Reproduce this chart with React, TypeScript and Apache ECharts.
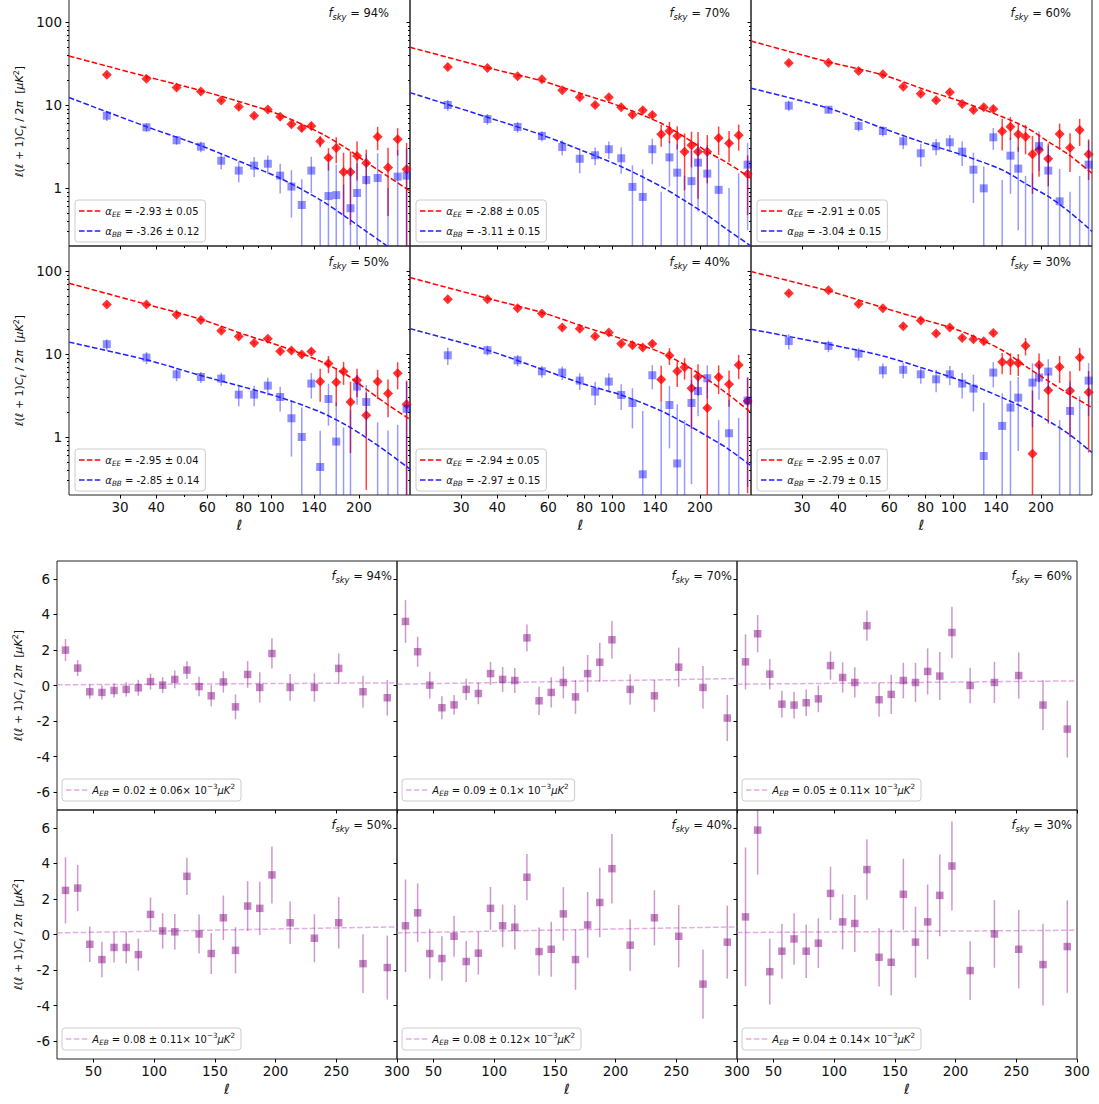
import React, { useEffect, useRef } from "react";
import * as echarts from "echarts";

// ---------- data ----------
const ELL = [27, 37, 47, 57, 67, 77, 87, 97, 107, 117, 127, 137, 147, 157, 167, 177, 187, 197, 212, 232, 252, 272, 292];
const FIT_ELL = [20, 37, 57, 80, 107, 147, 180, 212, 250, 300];
const EB_FIT_ELL = [20, 300];

const X_LOG_TICKS = [30, 40, 60, 80, 100, 140, 200];
const X_LOG_MINOR = [50, 70, 90];
const Y_LOG_TICKS = [1, 10, 100];
const Y_LOG_MINOR = [0.3, 0.4, 0.5, 0.6, 0.7, 0.8, 0.9, 2, 3, 4, 5, 6, 7, 8, 9, 20, 30, 40, 50, 60, 70, 80, 90];
const X_LIN_TICKS = [50, 100, 150, 200, 250, 300];
const Y_LIN_TICKS = [-6, -4, -2, 0, 2, 4, 6];

const FSKY = ["94%", "70%", "60%", "50%", "40%", "30%"];
const ALPHA_EE = ["-2.93 ± 0.05", "-2.88 ± 0.05", "-2.91 ± 0.05", "-2.95 ± 0.04", "-2.94 ± 0.05", "-2.95 ± 0.07"];
const ALPHA_BB = ["-3.26 ± 0.12", "-3.11 ± 0.15", "-3.04 ± 0.15", "-2.85 ± 0.14", "-2.97 ± 0.15", "-2.79 ± 0.15"];
const A_EB = ["0.02 ± 0.06", "0.09 ± 0.1", "0.05 ± 0.11", "0.08 ± 0.11", "0.08 ± 0.12", "0.04 ± 0.14"];

// EE / BB (log panels)
const EE_94 = [23.2, 20.7, 16.2, 14.5, 11.3, 9.5, 7.4, 8.8, 7.2, 5.85, 5.28, 5.58, 3.65, 2.32, 3.03, 1.56, 1.56, 2.43, 2.0, 4.15, 1.76, 3.86, 1.68];
const EE_94_ERR = [1.0, 0.9, 0.7, 0.6, 0.5, 0.45, 0.4, 0.45, 0.45, 0.45, 0.5, 0.6, 0.55, 0.7, 1.05, 1.1, 1.2, 1.2, 0.9, 1.3, 1.3, 1.4, 1.8];
const BB_94 = [7.43, 5.38, 3.76, 3.15, 2.13, 1.62, 1.86, 1.96, 1.41, 1.04, 0.624, 1.62, 0.1, 0.8, 0.82, 0.1, 0.57, 0.87, 1.25, 1.32, 0.1, 1.37, 1.41];
const BB_94_ERR = [1.0, 0.6, 0.45, 0.45, 0.45, 0.45, 0.5, 0.5, 0.55, 0.6, 0.65, 0.75, 0.6, 1.2, 1.1, 1.0, 1.2, 1.1, 1.3, 1.3, 0.9, 1.5, 1.6];
const EE_FIT_94 = [38.9, 22.0, 14.9, 10.6, 7.6, 4.6, 3.05, 2.05, 1.4, 0.92];
const BB_FIT_94 = [12.3, 5.48, 3.23, 2.0, 1.31, 0.72, 0.45, 0.3, 0.2, 0.12];

const EE_70 = [28.7, 27.9, 22.2, 20.4, 15.0, 12.4, 10.0, 12.4, 9.38, 7.64, 8.63, 7.58, 4.43, 4.86, 4.23, 2.74, 3.27, 2.74, 2.74, 4.0, 3.45, 4.31, 1.47];
const EE_70_ERR = [1.2, 1.0, 0.8, 0.7, 0.6, 0.55, 0.5, 0.55, 0.5, 0.5, 0.55, 0.6, 1.3, 1.4, 1.3, 1.8, 1.5, 2.0, 1.6, 1.5, 1.4, 1.5, 1.0];
const BB_70 = [10.0, 6.78, 5.43, 4.23, 3.12, 2.25, 2.48, 2.93, 2.28, 1.03, 0.78, 2.93, 0.1, 2.34, 1.53, 0.1, 1.21, 2.02, 1.49, 0.95, 0.1, 0.1, 1.91];
const BB_70_ERR = [1.5, 1.0, 0.8, 0.6, 0.65, 0.75, 0.6, 0.7, 0.8, 0.85, 0.9, 1.0, 0.8, 1.3, 1.8, 1.3, 1.6, 1.5, 1.8, 1.3, 0.9, 1.4, 1.6];
const EE_FIT_70 = [49.6, 28.1, 19.5, 13.3, 9.54, 6.02, 3.97, 2.74, 1.98, 1.31];
const BB_FIT_70 = [14.1, 7.11, 4.35, 2.75, 1.81, 1.04, 0.68, 0.47, 0.31, 0.2];

const EE_60 = [32.1, 32.3, 25.7, 23.4, 16.6, 13.7, 11.4, 14.2, 10.3, 8.7, 9.38, 8.95, 4.82, 5.48, 4.43, 4.15, 2.55, 2.87, 2.25, 4.47, 3.06, 5.0, 2.55];
const EE_60_ERR = [1.3, 1.1, 0.9, 0.8, 0.7, 0.6, 0.55, 0.6, 0.55, 0.55, 0.6, 0.65, 2.0, 1.7, 1.7, 1.6, 1.7, 1.5, 1.2, 1.5, 1.5, 1.8, 1.3];
const BB_60 = [9.81, 8.77, 5.58, 4.86, 3.65, 2.62, 3.18, 3.55, 2.74, 1.66, 0.99, 4.08, 0.1, 2.45, 1.71, 0.1, 0.1, 3.2, 1.62, 0.69, 0.1, 0.1, 1.91];
const BB_60_ERR = [1.4, 0.8, 0.8, 0.7, 0.7, 0.8, 0.7, 0.8, 0.9, 1.0, 0.82, 1.2, 1.15, 1.6, 1.4, 1.3, 1.4, 1.6, 1.6, 1.0, 0.8, 1.3, 1.8];
const EE_FIT_60 = [59.0, 33.0, 23.0, 15.2, 10.9, 7.22, 5.24, 3.61, 2.5, 1.5];
const BB_FIT_60 = [15.9, 9.13, 5.24, 3.45, 2.5, 1.65, 1.09, 0.79, 0.52, 0.3];

const EE_50 = [39.4, 39.4, 29.8, 25.7, 19.1, 16.2, 13.6, 15.3, 10.8, 11.0, 9.84, 10.7, 4.65, 7.66, 4.56, 6.14, 2.64, 4.82, 1.83, 4.65, 3.33, 5.85, 2.48];
const EE_50_ERR = [1.5, 1.3, 1.0, 0.9, 0.8, 0.7, 0.65, 0.7, 0.65, 0.65, 0.7, 0.75, 2.0, 1.8, 2.2, 1.9, 2.0, 1.8, 1.6, 1.8, 1.6, 2.1, 2.3];
const BB_50 = [13.1, 9.05, 5.69, 5.28, 5.05, 3.24, 3.24, 4.16, 3.03, 1.68, 1.0, 4.4, 0.435, 2.87, 0.88, 0.1, 0.1, 4.05, 2.64, 0.1, 0.1, 0.1, 2.18];
const BB_50_ERR = [2.0, 1.5, 1.0, 0.8, 0.9, 0.9, 0.9, 1.0, 1.0, 1.1, 1.26, 1.5, 0.75, 1.5, 1.7, 1.2, 2.0, 1.6, 1.6, 1.4, 1.1, 1.3, 2.4];
const EE_FIT_50 = [71.1, 39.7, 26.2, 17.3, 12.5, 8.2, 5.69, 3.76, 2.48, 1.63];
const BB_FIT_50 = [13.9, 8.5, 5.5, 4.0, 3.0, 2.0, 1.4, 0.98, 0.66, 0.41];

const EE_40 = [45.6, 45.6, 35.5, 30.7, 20.8, 20.2, 16.3, 18.1, 13.3, 12.7, 12.0, 13.3, 4.92, 9.56, 6.19, 6.91, 3.86, 5.34, 2.24, 5.28, 4.31, 7.37, 2.71];
const EE_40_ERR = [1.8, 1.5, 1.2, 1.0, 0.9, 0.8, 0.75, 0.8, 0.75, 0.75, 0.8, 0.85, 2.3, 2.2, 2.2, 2.0, 2.6, 2.2, 2.5, 2.0, 2.0, 2.4, 2.5];
const BB_40 = [9.65, 11.1, 8.4, 6.19, 5.97, 4.78, 3.52, 4.65, 3.21, 2.57, 0.355, 5.54, 0.1, 2.43, 0.48, 0.1, 2.57, 3.58, 5.1, 0.1, 1.11, 0.1, 2.75];
const BB_40_ERR = [2.3, 1.5, 1.3, 1.0, 1.1, 1.1, 1.1, 1.2, 1.1, 1.3, 1.7, 1.8, 2.5, 1.7, 2.0, 1.5, 2.3, 1.8, 2.2, 1.5, 1.7, 1.6, 2.5];
const EE_FIT_40 = [83.3, 46.9, 31.6, 21.2, 15.3, 10.4, 7.17, 4.95, 3.27, 1.97];
const BB_FIT_40 = [20.2, 11.1, 6.54, 4.31, 3.2, 2.06, 1.42, 1.02, 0.72, 0.45];

const EE_30 = [53.9, 58.5, 40.0, 35.5, 21.6, 25.3, 17.6, 20.8, 15.6, 15.0, 14.2, 17.9, 8.01, 7.9, 7.73, 12.6, 0.63, 7.37, 3.65, 6.97, 3.6, 9.05, 3.45];
const EE_30_ERR = [2.0, 1.8, 1.4, 1.2, 1.0, 1.0, 0.9, 0.9, 0.85, 0.85, 0.9, 1.0, 2.3, 2.3, 2.3, 3.0, 3.0, 2.8, 2.2, 2.5, 2.6, 2.8, 2.8];
const BB_30 = [14.3, 12.5, 10.1, 6.36, 6.45, 5.69, 4.95, 5.69, 4.4, 3.83, 0.59, 5.97, 1.36, 2.26, 2.98, 0.05, 4.52, 5.2, 6.14, 0.1, 2.06, 0.1, 4.78];
const BB_30_ERR = [3.0, 2.0, 1.8, 1.3, 1.4, 1.3, 1.5, 1.5, 1.5, 1.8, 2.0, 2.0, 2.0, 2.5, 2.3, 0.15, 3.2, 2.4, 2.5, 1.5, 2.6, 3.0, 3.0];
const EE_FIT_30 = [98.3, 57.6, 36.2, 25.5, 18.6, 11.1, 6.86, 4.73, 3.27, 2.26];
const BB_FIT_30 = [19.9, 13.1, 9.46, 6.6, 4.72, 2.98, 2.15, 1.56, 1.08, 0.65];

// EB (linear panels)
const EB_94 = [1.99, 0.98, -0.35, -0.39, -0.28, -0.22, -0.13, 0.22, 0.02, 0.34, 0.87, -0.06, -0.58, 0.2, -1.2, 0.62, -0.11, 1.8, -0.11, -0.11, 0.96, -0.35, -0.69];
const EB_94_ERR = [0.62, 0.45, 0.4, 0.4, 0.4, 0.4, 0.45, 0.45, 0.45, 0.5, 0.5, 0.55, 0.6, 0.6, 0.7, 0.75, 0.85, 0.85, 0.75, 0.8, 0.85, 0.9, 1.0];
const EB_70 = [3.6, 1.9, 0.02, -1.25, -1.09, -0.22, -0.45, 0.67, 0.34, 0.28, 2.68, -0.86, -0.39, 0.17, -0.64, 0.67, 1.31, 2.57, -0.22, -0.58, 1.03, -0.11, -1.83];
const EB_70_ERR = [1.2, 0.85, 0.75, 0.65, 0.55, 0.6, 0.6, 0.65, 0.7, 0.7, 0.75, 0.8, 0.85, 0.9, 0.95, 1.05, 1.1, 1.05, 0.85, 0.9, 1.1, 1.2, 1.3];
const EB_60 = [1.33, 2.91, 0.64, -1.05, -1.1, -0.97, -0.75, 1.12, 0.45, 0.17, 3.36, -0.8, -0.5, 0.28, 0.17, 0.79, 0.53, 2.98, 0.0, 0.17, 0.56, -1.1, -2.45];
const EB_60_ERR = [1.55, 1.05, 0.85, 0.75, 0.75, 0.75, 0.75, 0.8, 0.85, 0.85, 0.85, 0.95, 1.1, 1.0, 1.1, 1.3, 1.35, 1.45, 1.0, 1.15, 1.3, 1.4, 1.6];
const EB_50 = [2.48, 2.61, -0.55, -1.41, -0.73, -0.73, -1.13, 1.13, 0.2, 0.15, 3.27, 0.03, -1.07, 0.94, -0.89, 1.6, 1.47, 3.35, 0.66, -0.21, 0.66, -1.64, -1.86];
const EB_50_ERR = [1.86, 1.3, 1.0, 1.0, 0.85, 0.9, 0.9, 0.95, 1.0, 1.0, 1.05, 1.1, 1.15, 1.25, 1.3, 1.4, 1.5, 1.6, 1.2, 1.35, 1.45, 1.65, 1.8];
const EB_40 = [0.49, 1.22, -1.07, -1.35, -0.1, -1.52, -1.05, 1.47, 0.49, 0.41, 3.22, -0.96, -0.83, 1.16, -1.41, 0.54, 1.8, 3.7, -0.6, 0.94, -0.1, -2.79, -0.43];
const EB_40_ERR = [2.6, 1.65, 1.4, 1.25, 1.15, 1.15, 1.2, 1.2, 1.2, 1.25, 1.3, 1.35, 1.55, 1.5, 1.7, 1.85, 1.95, 1.95, 1.45, 1.55, 1.75, 1.95, 2.05];
const EB_30 = [0.99, 5.87, -2.09, -0.94, -0.25, -0.94, -0.49, 2.31, 0.71, 0.62, 3.65, -1.28, -1.56, 2.26, -0.43, 0.71, 2.2, 3.85, -2.03, 0.03, -0.83, -1.69, -0.68];
const EB_30_ERR = [3.9, 2.5, 1.85, 1.55, 1.45, 1.5, 1.4, 1.5, 1.55, 1.6, 1.7, 1.65, 1.85, 2.0, 2.0, 2.1, 2.3, 2.5, 1.65, 1.9, 2.2, 2.3, 2.6];

const EB_FIT_94 = [0.04, 0.15];
const EB_FIT_70 = [0.07, 0.39];
const EB_FIT_60 = [0.07, 0.26];
const EB_FIT_50 = [0.09, 0.43];
const EB_FIT_40 = [0.09, 0.43];
const EB_FIT_30 = [0.11, 0.24];

// ---------- layout / style ----------
const FONT = "DejaVu Sans";
const TXT = "#111";
const FRAME = "#222";
const TOP_LEFT = [69, 410, 751];
const TOP_W = 341;
const TOP_ROWS = [-3, 246];
const TOP_H = 249;
const BOT_LEFT = [57, 397, 737];
const BOT_W = 340;
const BOT_ROWS = [561, 810];
const BOT_H = 249;

const RED = "#ff0000";
const RED_BAR = "rgba(255,0,0,0.75)";
const BLUE = "rgba(0,0,255,0.55)";
const BLUE_BAR = "rgba(0,0,255,0.4)";
const BLUE_LINE = "#2020ff";
const PURPLE = "rgba(128,0,128,0.6)";
const PURPLE_BAR = "rgba(128,0,128,0.4)";
const PURPLE_LINE = "rgba(210,120,210,0.6)";
const DASH = [5.5, 2.4];
const DASH_ICON = "path://M0 0H5.5V1.6H0Z M7.9 0H13.4V1.6H7.9Z M15.8 0H21.3V1.6H15.8Z";

function rich(base: number, useFill = false) {
  const c = useFill ? { fill: TXT } : { color: TXT };
  const sub = Math.round(base * 0.72 * 10) / 10;
  return {
    n: { fontFamily: FONT, fontSize: base, lineHeight: base + 4, ...c },
    i: { fontFamily: FONT, fontSize: base, fontStyle: "italic", lineHeight: base + 4, ...c },
    s: { fontFamily: FONT, fontSize: sub, fontStyle: "italic", lineHeight: sub + 1, verticalAlign: "bottom", ...c },
    p: { fontFamily: FONT, fontSize: sub, lineHeight: sub + 1, verticalAlign: "top", ...c },
  };
}

const Y_TITLE = "{i|ℓ}{n|(}{i|ℓ}{n| + 1)}{i|C}{s|ℓ}{n| / 2}{i|π}{n|  [}{i|μK}{p|2}{n|]}";

function errBars(xi: number, yi: number, vals: number[], errs: number[], color: string, log: boolean, z: number) {
  return {
    type: "custom",
    xAxisIndex: xi,
    yAxisIndex: yi,
    z,
    silent: true,
    data: ELL.map((l, j) => [l, vals[j], errs[j]]),
    encode: { x: 0, y: 1 },
    renderItem: (params: any, api: any) => {
      const x = api.value(0);
      const v = api.value(1);
      const e = api.value(2);
      const cs = params.coordSys;
      const hi = api.coord([x, v + e]);
      const lo = v - e;
      const loY = log && lo <= 0 ? cs.y + cs.height + 20 : api.coord([x, lo])[1];
      const t = cs.y;
      const b = cs.y + cs.height;
      const y1 = Math.min(b, Math.max(t, hi[1]));
      const y2 = Math.min(b, Math.max(t, loY));
      return {
        type: "line",
        shape: { x1: hi[0], y1, x2: hi[0], y2 },
        style: { stroke: color, lineWidth: 1.5 },
      };
    },
  };
}

function scatter(xi: number, yi: number, vals: number[], symbol: string, size: number, color: string, z: number) {
  return {
    type: "scatter",
    xAxisIndex: xi,
    yAxisIndex: yi,
    symbol,
    symbolSize: size,
    itemStyle: { color },
    z,
    silent: true,
    clip: true,
    data: ELL.map((l, j) => [l, vals[j]]),
  };
}

function fitLine(name: string, xi: number, yi: number, ells: number[], vals: number[], color: string, z: number, smooth: number) {
  return {
    type: "line",
    name,
    xAxisIndex: xi,
    yAxisIndex: yi,
    symbol: "none",
    smooth,
    clip: true,
    silent: true,
    z,
    lineStyle: { color, width: 1.5, type: DASH },
    itemStyle: { color },
    data: ells.map((l, j) => [l, vals[j]]),
  };
}

const tickStyle = { color: "#000", width: 1 };
const labelStyle = { fontFamily: FONT, fontSize: 13.5, color: TXT };
const noLine = { show: false, onZero: false };

function buildOption() {
  const grid: any[] = [];
  const xAxis: any[] = [];
  const yAxis: any[] = [];
  const series: any[] = [];
  const legend: any[] = [];
  const graphic: any[] = [];
  const legendRich: Record<string, string> = {};

  const TOP = [
    [EE_94, EE_94_ERR, BB_94, BB_94_ERR, EE_FIT_94, BB_FIT_94],
    [EE_70, EE_70_ERR, BB_70, BB_70_ERR, EE_FIT_70, BB_FIT_70],
    [EE_60, EE_60_ERR, BB_60, BB_60_ERR, EE_FIT_60, BB_FIT_60],
    [EE_50, EE_50_ERR, BB_50, BB_50_ERR, EE_FIT_50, BB_FIT_50],
    [EE_40, EE_40_ERR, BB_40, BB_40_ERR, EE_FIT_40, BB_FIT_40],
    [EE_30, EE_30_ERR, BB_30, BB_30_ERR, EE_FIT_30, BB_FIT_30],
  ];
  const BOT = [
    [EB_94, EB_94_ERR, EB_FIT_94],
    [EB_70, EB_70_ERR, EB_FIT_70],
    [EB_60, EB_60_ERR, EB_FIT_60],
    [EB_50, EB_50_ERR, EB_FIT_50],
    [EB_40, EB_40_ERR, EB_FIT_40],
    [EB_30, EB_30_ERR, EB_FIT_30],
  ];

  const legendBase = {
    orient: "vertical",
    icon: DASH_ICON,
    itemWidth: 21.3,
    itemHeight: 1.6,
    itemGap: 6,
    padding: [4, 6, 4, 4],
    backgroundColor: "rgba(255,255,255,0.8)",
    borderColor: "#cccccc",
    borderWidth: 1,
    borderRadius: 3,
    selectedMode: false,
    textStyle: { fontFamily: FONT, fontSize: 10, color: TXT, lineHeight: 14, rich: rich(10) },
    formatter: (name: string) => legendRich[name] ?? name,
  };

  // ----- top block: EE and BB on log-log axes -----
  for (let k = 0; k < 6; k++) {
    const r = Math.floor(k / 3);
    const c = k % 3;
    const [ee, eeErr, bb, bbErr, eeFit, bbFit] = TOP[k];
    const gi = grid.length;
    grid.push({
      left: TOP_LEFT[c], top: TOP_ROWS[r], width: TOP_W, height: TOP_H,
      show: true, borderColor: FRAME, borderWidth: 1, backgroundColor: "rgba(0,0,0,0)",
      containLabel: false, outerBoundsMode: "none",
    });
    const xi = xAxis.length;
    xAxis.push({
      gridIndex: gi, type: "log", logBase: 10, min: 20, max: 300, position: "bottom",
      axisLine: noLine,
      axisTick: { show: true, length: 3.5, lineStyle: tickStyle, customValues: X_LOG_TICKS },
      axisLabel: { show: r === 1, customValues: X_LOG_TICKS, margin: 5, ...labelStyle },
      splitLine: { show: false },
      minorTick: { show: false },
      name: r === 1 ? "ℓ" : "",
      nameLocation: "middle",
      nameGap: 23,
      nameTextStyle: { fontFamily: FONT, fontSize: 14, fontStyle: "italic", color: TXT },
    });
    xAxis.push({
      gridIndex: gi, type: "log", logBase: 10, min: 20, max: 300, position: "bottom",
      axisLine: noLine,
      axisTick: { show: true, length: 2, lineStyle: tickStyle, customValues: X_LOG_MINOR },
      axisLabel: { show: false },
      splitLine: { show: false },
    });
    const yi = yAxis.length;
    yAxis.push({
      gridIndex: gi, type: "log", logBase: 10, min: 0.2, max: 200, position: "left",
      axisLine: noLine,
      axisTick: { show: true, length: 3.5, lineStyle: tickStyle, customValues: Y_LOG_TICKS },
      axisLabel: { show: c === 0, customValues: Y_LOG_TICKS, margin: 7, ...labelStyle },
      splitLine: { show: false },
      name: c === 0 ? Y_TITLE : "",
      nameLocation: "middle",
      nameRotate: 90,
      nameGap: 42,
      nameTextStyle: { rich: rich(11) },
    });
    yAxis.push({
      gridIndex: gi, type: "log", logBase: 10, min: 0.2, max: 200, position: "left",
      axisLine: noLine,
      axisTick: { show: true, length: 2, lineStyle: tickStyle, customValues: Y_LOG_MINOR },
      axisLabel: { show: false },
      splitLine: { show: false },
    });

    const eeName = `α_EE = ${ALPHA_EE[k]}`;
    const bbName = `α_BB = ${ALPHA_BB[k]}`;
    legendRich[eeName] = `{i|α}{s|EE}{n| = ${ALPHA_EE[k]}}`;
    legendRich[bbName] = `{i|α}{s|BB}{n| = ${ALPHA_BB[k]}}`;

    series.push(errBars(xi, yi, ee, eeErr, RED_BAR, true, 2));
    series.push(scatter(xi, yi, ee, "diamond", 10, RED, 3));
    series.push(errBars(xi, yi, bb, bbErr, BLUE_BAR, true, 4));
    series.push(scatter(xi, yi, bb, "rect", 8, BLUE, 5));
    series.push(fitLine(eeName, xi, yi, FIT_ELL, eeFit, RED, 6, 0.3));
    series.push(fitLine(bbName, xi, yi, FIT_ELL, bbFit, BLUE_LINE, 6, 0.3));

    legend.push({ ...legendBase, data: [eeName, bbName], left: TOP_LEFT[c] + 6, top: TOP_ROWS[r] + 203 });

    graphic.push({
      type: "text", z: 100, x: TOP_LEFT[c] + TOP_W - 21, y: TOP_ROWS[r] + 16,
      style: {
        text: `{i|f}{s|sky}{n| = ${FSKY[k]}}`, rich: rich(11.5, true),
        align: "right", verticalAlign: "middle", textAlign: "right", textVerticalAlign: "middle",
      },
    });
  }

  // ----- bottom block: EB on linear axes -----
  for (let k = 0; k < 6; k++) {
    const r = Math.floor(k / 3);
    const c = k % 3;
    const [eb, ebErr, ebFit] = BOT[k];
    const gi = grid.length;
    grid.push({
      left: BOT_LEFT[c], top: BOT_ROWS[r], width: BOT_W, height: BOT_H,
      show: true, borderColor: FRAME, borderWidth: 1, backgroundColor: "rgba(0,0,0,0)",
      containLabel: false, outerBoundsMode: "none",
    });
    const xi = xAxis.length;
    xAxis.push({
      gridIndex: gi, type: "value", min: 20, max: 300, position: "bottom",
      axisLine: noLine,
      axisTick: { show: true, length: 3.5, lineStyle: tickStyle, customValues: X_LIN_TICKS },
      axisLabel: { show: r === 1, customValues: X_LIN_TICKS, margin: 5, ...labelStyle },
      splitLine: { show: false },
      name: r === 1 ? "ℓ" : "",
      nameLocation: "middle",
      nameGap: 23,
      nameTextStyle: { fontFamily: FONT, fontSize: 14, fontStyle: "italic", color: TXT },
    });
    const yi = yAxis.length;
    yAxis.push({
      gridIndex: gi, type: "value", min: -7, max: 7, position: "left",
      axisLine: noLine,
      axisTick: { show: true, length: 3.5, lineStyle: tickStyle, customValues: Y_LIN_TICKS },
      axisLabel: { show: c === 0, customValues: Y_LIN_TICKS, margin: 7, ...labelStyle },
      splitLine: { show: false },
      name: c === 0 ? Y_TITLE : "",
      nameLocation: "middle",
      nameRotate: 90,
      nameGap: 31,
      nameTextStyle: { rich: rich(11) },
    });

    const ebName = `A_EB = ${A_EB[k]}× 10^-3μK^2`;
    legendRich[ebName] = `{i|A}{s|EB}{n| = ${A_EB[k]}× 10}{p|−3}{i|μK}{p|2}`;

    series.push(fitLine(ebName, xi, yi, EB_FIT_ELL, ebFit, PURPLE_LINE, 2, 0));
    series.push(errBars(xi, yi, eb, ebErr, PURPLE_BAR, false, 3));
    series.push(scatter(xi, yi, eb, "rect", 7.5, PURPLE, 4));

    legend.push({ ...legendBase, data: [ebName], left: BOT_LEFT[c] + 5, top: BOT_ROWS[r] + 218 });

    graphic.push({
      type: "text", z: 100, x: BOT_LEFT[c] + BOT_W - 5, y: BOT_ROWS[r] + 15,
      style: {
        text: `{i|f}{s|sky}{n| = ${FSKY[k]}}`, rich: rich(11.5, true),
        align: "right", verticalAlign: "middle", textAlign: "right", textVerticalAlign: "middle",
      },
    });
  }

  return {
    animation: false,
    backgroundColor: "#ffffff",
    textStyle: { fontFamily: FONT },
    grid,
    xAxis,
    yAxis,
    series,
    legend,
    graphic,
    tooltip: { show: false },
  };
}

export default function App() {
  const ref = useRef<HTMLDivElement>(null);
  useEffect(() => {
    document.body.style.margin = "0";
    if (!ref.current) return;
    const chart = echarts.init(ref.current, null, { renderer: "svg" });
    chart.setOption(buildOption() as any);
    return () => {
      chart.dispose();
    };
  }, []);
  return <div ref={ref} style={{ width: 1099, height: 1104, background: "#fff" }} />;
}
